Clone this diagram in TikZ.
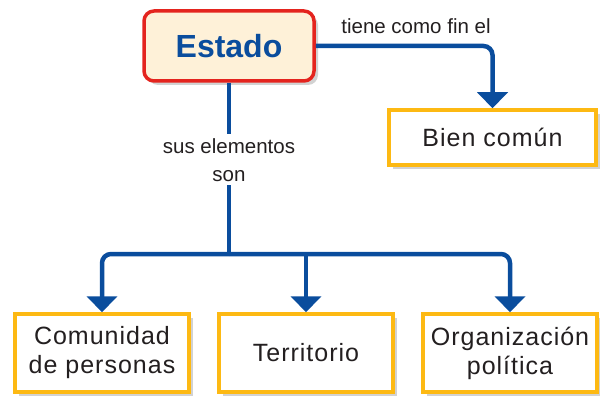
\documentclass[tikz,border=0pt]{standalone}
\usepackage{fontspec}
\setmainfont{Liberation Sans}
\newfontfamily\boxfont[LetterSpace=4]{Liberation Sans}
\usetikzlibrary{arrows.meta,shadows}
\definecolor{linkblue}{HTML}{0A4D9D}
\definecolor{estadored}{HTML}{E4241E}
\definecolor{boxyellow}{HTML}{FDB913}
\definecolor{estadocream}{HTML}{FEF1D8}
\definecolor{textgray}{HTML}{231F20}
\begin{document}
\begin{tikzpicture}[x=1pt,y=-1pt,inner sep=2pt,
    box/.style={rectangle,draw=boxyellow,line width=3.5pt,fill=white,text=textgray,align=center,
      minimum width=174pt,minimum height=78pt,font=\boxfont\fontsize{25}{29}\selectfont,
      drop shadow={shadow xshift=4pt,shadow yshift=-4pt,opacity=.25,fill=black!70}},
    conn/.style={draw=linkblue,line width=4.5pt,-{Triangle[width=30pt,length=16pt]}},
    lab/.style={text=textgray,align=center,font=\fontsize{20.5}{28}\selectfont}]
    \useasboundingbox (0,0) rectangle (600,396);
    %nodes
    \node (Est) at (229,46) [rectangle,rounded corners=10pt,draw=estadored,line width=3.5pt,fill=estadocream,
      minimum width=170pt,minimum height=70pt,text=linkblue,font=\fontsize{32}{36}\selectfont\bfseries,
      drop shadow={shadow xshift=4pt,shadow yshift=-4pt,opacity=.25,fill=black!70}] {Estado};
    \node (Bien) at (492.5,137.5) [box,minimum width=207pt,minimum height=55pt] {Bien común};
    \node (Com) at (102,353) [box] {Comunidad\\de personas};
    \node (Ter) at (306,353) [box] {Territorio};
    \node (Org) at (510,353) [box] {Organización\\política};
    \coordinate (split) at (229,254);

    \draw [conn,rounded corners=9pt] (Est.east) -| (Bien.north);
    \node (fin) at (416,26) [lab] {tiene como fin el};
    \draw [conn,-] (Est.south) -- (split) node[lab,pos=0.45,fill=white,inner sep=4pt] {sus elementos\\son};
    \draw [conn,rounded corners=9pt] (split) -| (Com.north);
    \draw [conn,rounded corners=9pt] (split) -| (Org.north);
    \draw [conn] (Ter.north |- split) -- (Ter.north);
\end{tikzpicture}
\end{document}
